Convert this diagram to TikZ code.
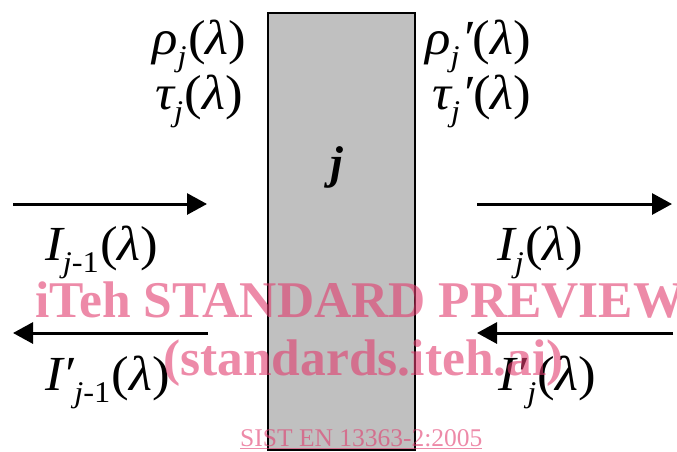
\documentclass[tikz,border=0pt]{standalone}
\usepackage{fontspec}
\setmainfont{Liberation Serif}
\newfontfamily\lblfont[FakeStretch=1.08]{Liberation Serif}
\usetikzlibrary{arrows.meta}
\definecolor{slabgrey}{RGB}{192,192,192}
\definecolor{wmpink}{RGB}{225,60,110}
\newcommand{\sbs}[1]{\raisebox{-0.26em}{\fontsize{30}{30}\selectfont #1}\kern0.03em}
\newcommand{\prm}{\symbol{"2032}}
\newcommand{\lp}{{\upshape(}}
\newcommand{\rp}{{\upshape)}}
\begin{document}
\begin{tikzpicture}[x=1pt,y=-1pt,
  lbl/.style={anchor=base west, inner sep=0pt, font=\lblfont\fontsize{49}{49}\selectfont\itshape},
  arr/.style={line width=3pt, -{Triangle[length=20pt,width=21pt]}},
  slab/.style={draw=black, line width=2.6pt, fill=slabgrey},
  wm/.style={anchor=base west, inner sep=0pt, text=wmpink, text opacity=0.6, font=\fontsize{51.5}{52}\selectfont\bfseries},
  wmsmall/.style={anchor=base west, inner sep=0pt, text=wmpink, text opacity=0.6, font=\fontsize{25.5}{26}\selectfont}]
\useasboundingbox (0,0) rectangle (677,451);
% slab
\draw[slab] (268,13) rectangle (415,450);
\node[anchor=base, inner sep=0pt, font=\fontsize{46}{46}\selectfont\bfseries\itshape] (jlab) at (337,178) {j};
% reflectance / transmittance labels
\node[lbl] (rho) at (152,54) {ρ\sbs{j}\lp λ\rp};
\node[lbl] (tau) at (155,109) {τ\sbs{j}\lp λ\rp};
\node[lbl] (rhop) at (425,54) {ρ\sbs{j}\prm\lp λ\rp};
\node[lbl] (taup) at (432,109) {τ\sbs{j}\prm\lp λ\rp};
% arrows
\coordinate (a1s) at (13,204);  \coordinate (a1e) at (207,204);
\coordinate (a2s) at (477,204); \coordinate (a2e) at (672,204);
\coordinate (a3s) at (208,333); \coordinate (a3e) at (13,333);
\coordinate (a4s) at (673,333); \coordinate (a4e) at (477,333);
\draw[arr] (a1s) -- (a1e);
\draw[arr] (a2s) -- (a2e);
\draw[arr] (a3s) -- (a3e);
\draw[arr] (a4s) -- (a4e);
% intensity labels
\node[lbl] (Ijm) at (45,260) {I\sbs{j{\upshape -1}}\lp λ\rp};
\node[lbl] (Ij) at (497,260) {I\sbs{j}\lp λ\rp};
\node[lbl] (Ipjm) at (45,390) {I\prm\sbs{j{\upshape -1}}\lp λ\rp};
\node[lbl] (Ipj) at (498,390) {I\prm\sbs{j}\lp λ\rp};
% watermark
\node[wm] (wm1) at (35,317) {iTeh STANDARD PREVIEW};
\node[wm] (wm2) at (163,375) {(standards.iteh.ai)};
\node[wmsmall] (wm3) at (240,446) {\underline{SIST EN 13363-2:2005}};
\end{tikzpicture}
\end{document}
